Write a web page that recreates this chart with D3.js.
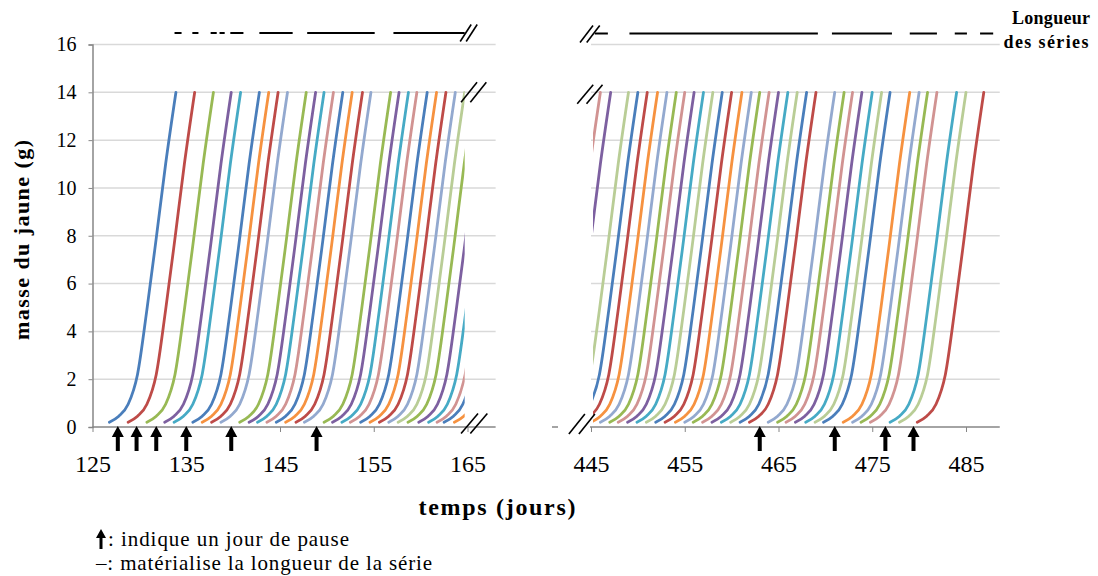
<!DOCTYPE html>
<html><head><meta charset="utf-8">
<script src="https://cdn.jsdelivr.net/npm/d3@7"></script>
<style>
body{margin:0;background:#fff}
svg{display:block}
text{font-family:"Liberation Serif","Times New Roman",serif;fill:#000}
</style>
</head><body>
<svg id="c" width="1098" height="576"></svg>
<script>
// ---------- data ----------
const yTicks = [0, 2, 4, 6, 8, 10, 12, 14, 16];
const leftTicks = [125, 135, 145, 155, 165];
const rightTicks = [445, 455, 465, 475, 485];

// common yolk-growth profile (days since start, mass g)
const profileDays = [0, 1, 2, 3, 4, 5, 6, 7.1];
const profileMass = [0.2, 0.45, 0.95, 2.2, 4.9, 7.9, 11.0, 14.0];

// start day of each yolk (left period)
const leftStarts = [126.8, 128.8, 130.8, 132.7, 133.7, 135.7, 136.7, 137.7, 138.7, 140.7,
  141.7, 142.6, 143.6, 144.6, 145.6, 146.7, 147.6, 149.7, 150.6, 151.6, 152.5, 153.6,
  154.6, 155.6, 156.6, 157.6, 158.65, 159.8, 160.85, 161.75, 162.5, 163.6];
const leftColors = ["blue","red","green","purple","teal","blue","orange","red","lightblue","green",
  "purple","teal","pink","blue","orange","red","lightblue","green","purple","teal","pink","blue",
  "orange","red","lightblue","lightgreen","green","purple","teal","pink","blue","orange"];

// start day of each yolk (right period)
const rightStarts = [438.9, 440.0, 441.9, 442.9, 443.9, 445.0, 446.0, 447.0, 447.9, 448.9,
  449.9, 450.9, 451.9, 452.9, 454.0, 455.0, 455.9, 456.9, 457.9, 458.9, 459.9, 460.9, 461.9,
  463.9, 464.9, 465.8, 466.8, 467.9, 468.9, 469.8, 471.9, 472.9, 473.8, 474.8, 476.9, 477.9, 479.8];
const rightColors = ["pink","purple","lightgreen","blue","red","orange","lightblue","green","pink","purple",
  "teal","lightgreen","blue","red","orange","lightblue","green","pink","purple","teal","lightgreen","blue","red",
  "lightblue","green","pink","purple","teal","lightgreen","blue","orange","lightblue","green","pink","teal","lightgreen","red"];

// pause days (arrows)
const leftPauses = [127.7, 129.7, 131.8, 135.0, 139.8, 148.9];
const rightPauses = [463.0, 471.0, 476.4, 479.4];

// series length segments [from, to] in days
const leftRuns = [[133.75,134.5],[135.65,136.3],[137.6,138.25],[138.55,139.1],[139.7,141.1],[142.8,146.35],[147.9,155.1],[157.1,164.7]];
const rightRuns = [[445.4,446.8],[449.1,469.2],[470.7,477.1],[479.0,481.9],[483.8,485.1],[486.5,487.9]];

const palette = {blue:"#4A7EBB", red:"#BE4B48", green:"#98B954", purple:"#7D60A0", teal:"#46AAC5",
  orange:"#F69240", lightblue:"#93A9CF", pink:"#D19392", lightgreen:"#B9CD96"};

// ---------- scales ----------
const svg = d3.select("#c");
const y = d3.scaleLinear().domain([0, 16]).range([427, 44.5]);
const xL = d3.scaleLinear().domain([125, 165]).range([92.5, 467.5]);
const xR = d3.scaleLinear().domain([445, 485]).range([591, 966]);
const leftDomainEnd = 168, rightDomainEnd = 488.6;
const leftCut = 164.7, rightCut = 445.2;

const gridC = "#d9d9d9", axisC = "#868686";

// gridlines
const g = svg.append("g");
yTicks.filter(v => v > 0).forEach(v => {
  g.append("line").attr("x1", xL(125)).attr("x2", xL(leftDomainEnd)).attr("y1", y(v)).attr("y2", y(v))
    .attr("stroke", gridC).attr("stroke-width", 1.5);
  g.append("line").attr("x1", xR(445)).attr("x2", xR(rightDomainEnd)).attr("y1", y(v)).attr("y2", y(v))
    .attr("stroke", gridC).attr("stroke-width", 1.5);
});

// y axis
const yAxis = d3.axisLeft(y).tickValues(yTicks).tickSize(4).tickPadding(12).tickFormat(d3.format("d"));
const ya = svg.append("g").attr("transform", `translate(${xL(125)},0)`).call(yAxis);
ya.select(".domain").attr("stroke", axisC).attr("stroke-width", 1.5);
ya.selectAll(".tick line").attr("stroke", axisC);
ya.selectAll("text").attr("font-size", 20).attr("font-family", "Liberation Serif");

// x axes
function xAxis(scale, ticks, x0, x1) {
  const a = d3.axisBottom(scale).tickValues(ticks).tickSize(5).tickPadding(23).tickFormat(d3.format("d"));
  const ga = svg.append("g").attr("transform", `translate(0,${y(0)})`).call(a);
  ga.select(".domain").remove();
  ga.append("line").attr("x1", x0).attr("x2", x1).attr("stroke", axisC).attr("stroke-width", 1.5);
  ga.selectAll(".tick line").attr("stroke", axisC);
  ga.selectAll("text").attr("font-size", 24).attr("font-family", "Liberation Serif");
}
xAxis(xL, leftTicks, xL(125), xL(leftDomainEnd));
xAxis(xR, rightTicks, xR(445) - 1, xR(rightDomainEnd));
svg.append("line").attr("x1", 552).attr("x2", 558).attr("y1", y(0)).attr("y2", y(0)).attr("stroke", axisC).attr("stroke-width", 1.5);

// clip paths
const defs = svg.append("defs");
defs.append("clipPath").attr("id", "clipL").append("rect")
  .attr("x", 0).attr("y", 0).attr("width", xL(leftCut)).attr("height", 576);
defs.append("clipPath").attr("id", "clipR").append("rect")
  .attr("x", xR(rightCut)).attr("y", 0).attr("width", 1098 - xR(rightCut)).attr("height", 576);

function seriesPoints(start) {
  return profileDays.map((t, i) => [start + t, profileMass[i]]);
}
function drawSeries(scale, starts, colors, clip) {
  const line = d3.line().x(d => scale(d[0])).y(d => y(d[1])).curve(d3.curveMonotoneX);
  svg.append("g").attr("clip-path", `url(#${clip})`)
    .selectAll("path").data(starts).join("path")
    .attr("d", s => line(seriesPoints(s)))
    .attr("fill", "none")
    .attr("stroke", (s, i) => palette[colors[i]])
    .attr("stroke-width", 2.8)
    .attr("stroke-linecap", "round");
}
drawSeries(xL, leftStarts, leftColors, "clipL");
drawSeries(xR, rightStarts, rightColors, "clipR");

// pause arrows
function arrows(scale, days) {
  svg.append("g").selectAll("path").data(days).join("path")
    .attr("d", d => {
      const x = scale(d), t = y(0) - 1;
      return `M${x},${t} L${x + 6},${t + 11} L${x + 2},${t + 11} L${x + 2},${t + 25} L${x - 2},${t + 25} L${x - 2},${t + 11} L${x - 6},${t + 11} Z`;
    })
    .attr("fill", "#000");
}
arrows(xL, leftPauses);
arrows(xR, rightPauses);

// series length segments
function runs(scale, data, yy) {
  svg.append("g").selectAll("line").data(data).join("line")
    .attr("x1", d => scale(d[0])).attr("x2", d => scale(d[1]))
    .attr("y1", yy).attr("y2", yy)
    .attr("stroke", "#000").attr("stroke-width", 2);
}
runs(xL, leftRuns, 33);
runs(xR, rightRuns, 33.5);

// break marks
function brk(cx, cy, dx, dy, off) {
  [-off / 2, off / 2].forEach(o => {
    svg.append("line")
      .attr("x1", cx + o - dx / 2).attr("y1", cy + dy / 2)
      .attr("x2", cx + o + dx / 2).attr("y2", cy - dy / 2)
      .attr("stroke", "#000").attr("stroke-width", 1.6);
  });
}
brk(xL(leftCut) + 4, 33, 11, 17, 6);
brk(xL(leftCut) + 9, y(14), 16, 20, 9.3);
brk(xL(leftCut) + 9.5, y(0) - 3.5, 17, 20, 9.3);
brk(xR(rightCut) - 3, 34, 13, 17, 6.7);
brk(xR(rightCut) - 3, y(14) + 2, 16, 19, 9.3);
brk(xR(rightCut) - 11, y(0) - 3, 16, 20, 10);

// titles
svg.append("text").attr("x", 497).attr("y", 515).attr("text-anchor", "middle")
  .attr("font-size", 24).attr("font-weight", "bold")
  .attr("textLength", 157).attr("lengthAdjust", "spacing").text("temps (jours)");
svg.append("text").attr("transform", `translate(29,240) rotate(-90)`).attr("text-anchor", "middle")
  .attr("font-size", 22).attr("font-weight", "bold")
  .attr("textLength", 200).attr("lengthAdjust", "spacing").text("masse du jaune (g)");
svg.append("text").attr("x", 1051).attr("y", 24).attr("text-anchor", "middle")
  .attr("font-size", 18).attr("font-weight", "bold")
  .attr("textLength", 78).attr("lengthAdjust", "spacing").text("Longueur");
svg.append("text").attr("x", 1046).attr("y", 48).attr("text-anchor", "middle")
  .attr("font-size", 18).attr("font-weight", "bold")
  .attr("textLength", 85).attr("lengthAdjust", "spacing").text("des séries");

// legend
svg.append("path").attr("d", "M101,529 L106,538 L102.5,538 L102.5,549 L99.5,549 L99.5,538 L96,538 Z").attr("fill", "#000");
svg.append("text").attr("x", 108).attr("y", 546).attr("font-size", 21)
  .attr("textLength", 241).attr("lengthAdjust", "spacing").text(": indique un jour de pause");
svg.append("text").attr("x", 96).attr("y", 570).attr("font-size", 21)
  .attr("textLength", 336).attr("lengthAdjust", "spacing").text("–: matérialise la longueur de la série");
</script>
</body></html>
